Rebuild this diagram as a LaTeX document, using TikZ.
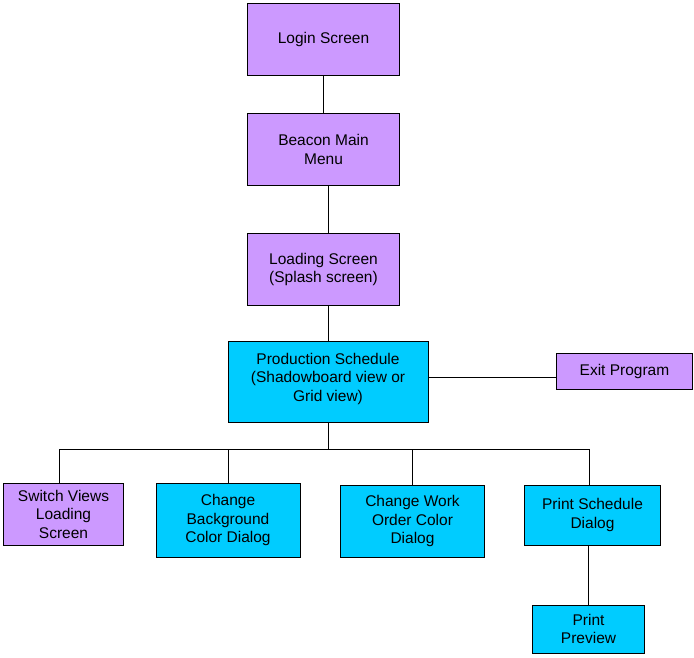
\documentclass[tikz,border=0pt]{standalone}
\usepackage{fontspec}
\setmainfont{Liberation Sans}
\definecolor{boxpurple}{HTML}{CC99FF}
\definecolor{boxcyan}{HTML}{00CCFF}
\begin{document}
\begin{tikzpicture}[x=1pt,y=-1pt,
  box/.style={draw=black,line width=1pt,rectangle,align=center,inner sep=0pt,
    font=\fontsize{15.5}{18.5}\selectfont},
  pbox/.style={box,fill=boxpurple},
  cbox/.style={box,fill=boxcyan},
  link/.style={draw=black,line width=1pt}]
\useasboundingbox (0,0) rectangle (694,657);
\node[pbox,minimum width=152pt,minimum height=72pt] (login) at (323.5,39.5) {Login Screen};
\node[pbox,minimum width=152pt,minimum height=72pt] (beacon) at (323.5,149.5) {Beacon Main\\Menu};
\node[pbox,minimum width=152pt,minimum height=72pt] (loading) at (323.5,269.5) {Loading Screen\\(Splash screen)};
\node[cbox,minimum width=200pt,minimum height=81pt,text depth=10pt] (prod) at (328,382) {Production Schedule\\(Shadowboard view or\\Grid view)};
\node[pbox,minimum width=136pt,minimum height=36pt] (exit) at (624.5,371) {Exit Program};
\node[pbox,minimum width=120pt,minimum height=62pt] (switch) at (63.5,514) {Switch Views\\Loading\\Screen};
\node[cbox,minimum width=144pt,minimum height=74pt] (bg) at (228,520) {Change\\Background\\Color Dialog};
\node[cbox,minimum width=144pt,minimum height=72pt] (work) at (412.5,521) {Change Work\\Order Color\\Dialog};
\node[cbox,minimum width=136pt,minimum height=60pt] (print) at (592.5,515) {Print Schedule\\Dialog};
\node[cbox,minimum width=112pt,minimum height=48pt] (preview) at (588.5,629) {Print\\Preview};
\coordinate (bus) at (328,449);
\coordinate (exitlink) at (556.5,377);
\draw[link] (login.south) -- (beacon.north);
\draw[link] (beacon.south -| prod.north) -- (loading.north -| prod.north);
\draw[link] (loading.south -| prod.north) -- (prod.north);
\draw[link] (prod.east |- exitlink) -- (exitlink);
\draw[link] (prod.south) -- (bus);
\draw[link] (bus) -| ([xshift=-4pt]switch.north);
\draw[link] (bus) -| (bg.north);
\draw[link] (bus) -| (work.north);
\draw[link] (bus) -| ([xshift=-3.5pt]print.north);
\draw[link] (print.south -| preview.north) -- (preview.north);
\end{tikzpicture}
\end{document}
